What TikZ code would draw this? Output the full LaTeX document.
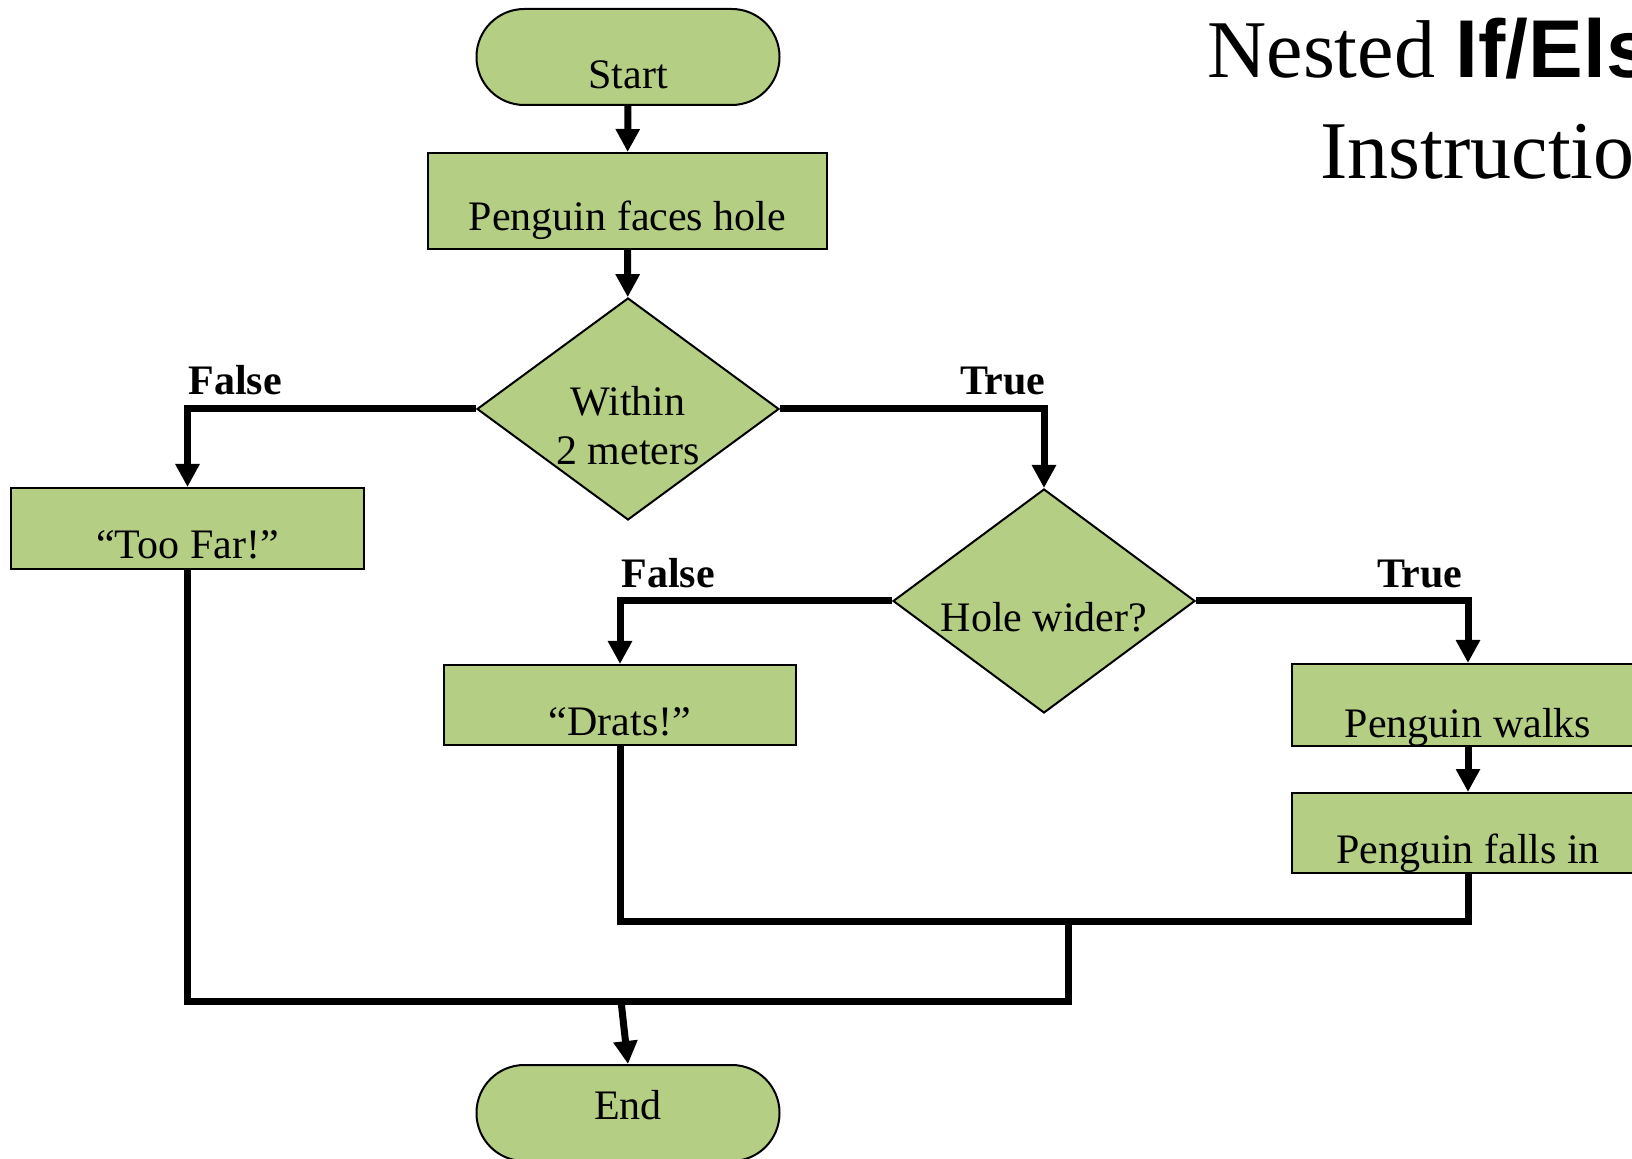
\documentclass[tikz,border=0pt]{standalone}
\usepackage{fontspec}
\setmainfont{Liberation Serif}
\newfontfamily\headsans{Liberation Sans}
\usetikzlibrary{arrows.meta,shapes.geometric}
\definecolor{boxColor}{HTML}{B4CE84}
\newcommand{\sunk}[2]{\raisebox{-#1}[0pt][0pt]{#2}}
\tikzset{terminal/.style={draw=black, fill=boxColor, line width=1pt, rounded corners=23.9pt,
		minimum width=151.5pt, minimum height=48pt, inner sep=0pt}}
\tikzset{process/.style={draw=black, fill=boxColor, line width=1pt,
		minimum width=176pt, minimum height=40pt, inner sep=0pt}}
\tikzset{decision/.style={diamond, draw=black, fill=boxColor, line width=1pt,
		minimum width=151pt, minimum height=111pt, inner sep=0pt}}
\tikzset{
	flow/.style={line width=3.5pt},
	arrow/.style={flow, -{Triangle[width=11.5pt,length=11.5pt]}},
	tag/.style={font=\fontsize{21}{24.5}\selectfont\bfseries, inner sep=0pt},
	heading/.style={font=\fontsize{41}{50}\selectfont, inner sep=0pt, anchor=base west}
}

\begin{document}
\begin{tikzpicture}[x=0.5pt, y=-0.5pt, font=\fontsize{21}{24.5}\selectfont]
			\useasboundingbox (0,0) rectangle (1632,1159);
			\clip (0,0) rectangle (1632,1159);
			\node[terminal] at (628,57)       (start)  {\sunk{16pt}{Start}};
			\node[process, minimum width=199.5pt, minimum height=48pt] at (627.5,201) (faces) {\sunk{15pt}{Penguin faces hole}};
			\node[decision] at (628,409)      (within) {\sunk{16pt}{\begin{tabular}{@{}c@{}}Within\\2 meters\end{tabular}}};
			\node[process, minimum width=176.5pt, minimum height=40.5pt] at (187.5,528.5) (toofar) {\sunk{15pt}{``Too Far!''}};
			\node[decision, minimum height=112pt] at (1044,601) (hole) {\sunk{15.5pt}{Hole wider?}};
			\node[process] at (620,705)       (drats)  {\sunk{15pt}{``Drats!''}};
			\node[process, minimum height=41pt] at (1468,705) (walks) {\sunk{16pt}{Penguin walks}};
			\node[process] at (1468,833)      (falls)  {\sunk{15pt}{Penguin falls in}};
			\node[terminal] at (628,1113)     (finish) {\sunk{3pt}{End}};
			% branch labels
			\node[tag, anchor=base west] at (188,395)  (no_1)  {False};
			\node[tag, anchor=base east] at (1046,395) (yes_1) {True};
			\node[tag, anchor=base west] at (621,588)  (no_2)  {False};
			\node[tag, anchor=base east] at (1463,588) (yes_2) {True};
			% title
			\node[heading] at (1207,78)  (title_1) {Nested {\headsans\bfseries If/Else}};
			\node[heading] at (1320,179) (title_2) {Instructions};
			\coordinate (merge) at (1068,921);
			\coordinate (base) at (1068,1001);
			\coordinate (drop) at (621,1001);
			\draw[arrow] (start) -- (faces);
			\draw[arrow] (faces) -- (within);
			\draw[arrow] (within.west) -| (toofar.north);
			\draw[arrow] (within.east) -| (hole.north);
			\draw[arrow] (hole.west) -| (drats.north);
			\draw[arrow] (hole.east) -| (walks.north);
			\draw[arrow] (walks) -- (falls);
			\draw[flow] (drats.south) |- (merge) -| (falls.south);
			\draw[flow] (toofar.south) |- (base) -- (merge);
			\draw[arrow] (drop) -- (finish.north);
\end{tikzpicture}
\end{document}
